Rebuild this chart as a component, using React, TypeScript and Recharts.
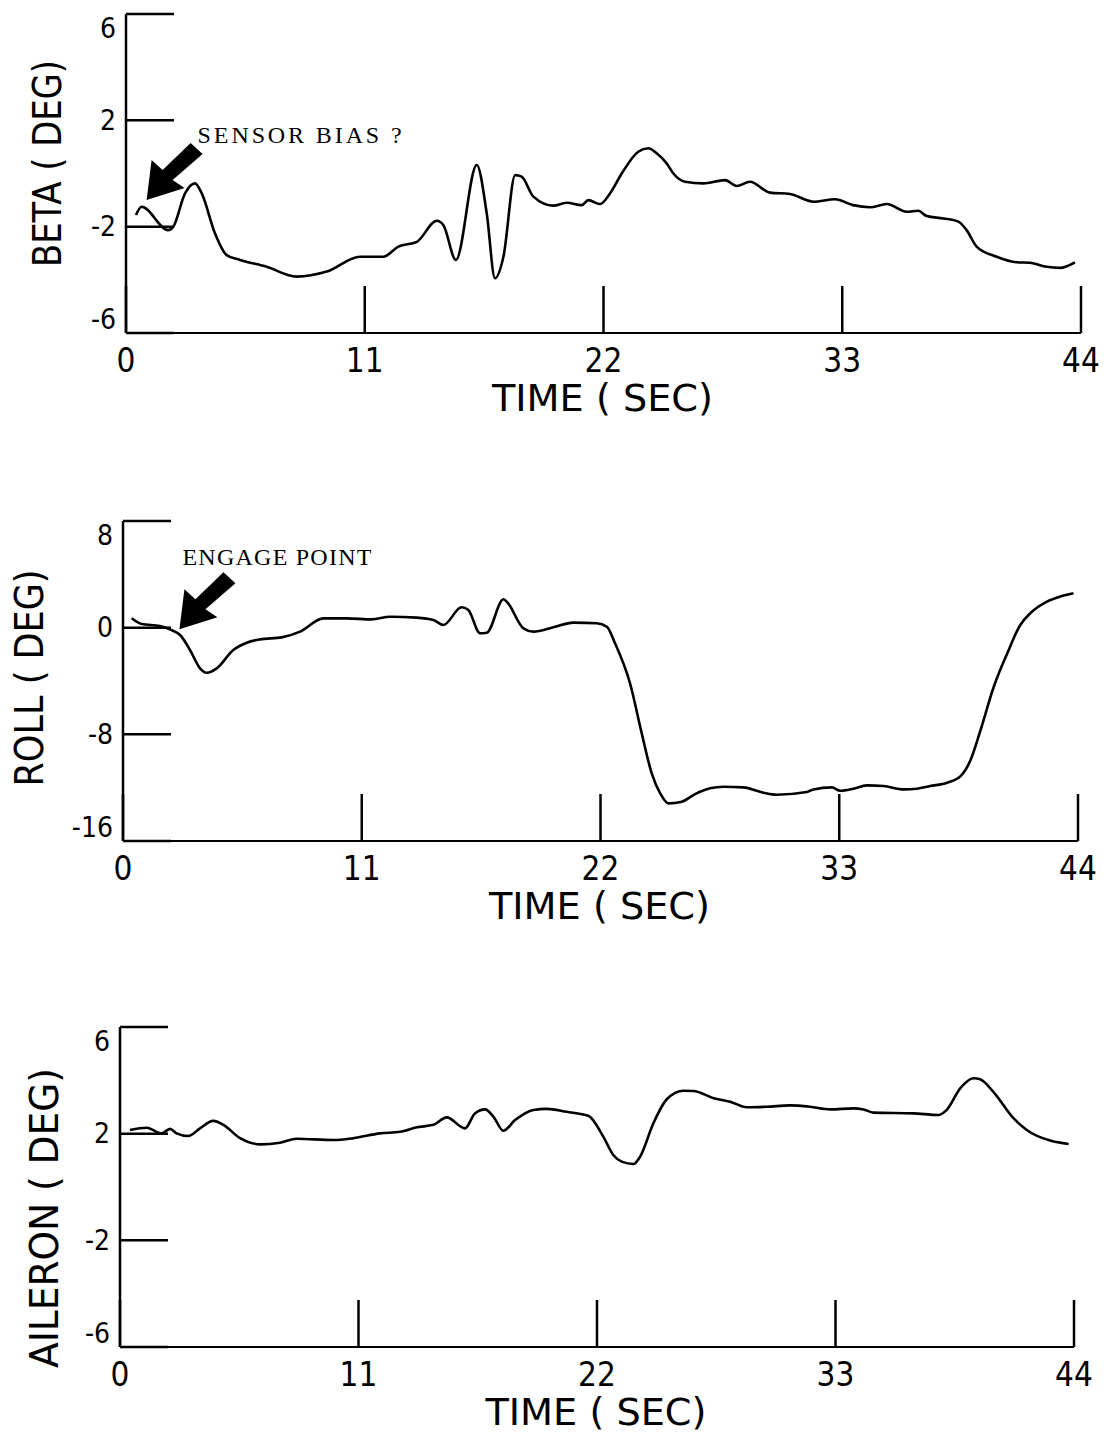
import { LineChart, Line, XAxis, YAxis, ReferenceDot } from "recharts"

// beta (sideslip) trace
const betaTime = [0.46, 0.72, 1.95, 2.18, 2.72, 3.18, 3.49, 4.1, 4.64, 5.25, 6.48, 7.86, 9.25, 10.78, 11.86, 12.55, 13.4, 14.32, 14.62, 15.2, 16.16, 16.62, 17.0, 17.39, 17.93, 18.23, 18.77, 19.69, 20.31, 21.0, 21.3, 21.84, 22.3, 22.84, 23.6, 24.07, 24.45, 24.91, 25.22, 25.76, 26.6, 27.6, 28.14, 28.75, 29.67, 30.6, 31.67, 32.67, 33.5, 34.28, 35.05, 35.97, 36.5, 36.89, 37.65, 38.35, 38.73, 39.19, 40.11, 41.04, 41.65, 42.42, 43.03, 43.72]
const betaDeg = [-1.56, -1.25, -2.13, -2.0, -0.75, -0.37, -0.75, -2.25, -3.07, -3.25, -3.51, -3.88, -3.69, -3.13, -3.13, -2.75, -2.57, -1.78, -1.94, -3.25, 0.32, -1.5, -3.94, -3.13, -0.06, -0.12, -0.87, -1.21, -1.1, -1.19, -1.0, -1.15, -0.75, 0.0, 0.82, 0.95, 0.76, 0.38, 0.0, -0.31, -0.37, -0.25, -0.47, -0.31, -0.72, -0.77, -1.06, -0.97, -1.19, -1.27, -1.15, -1.44, -1.4, -1.6, -1.69, -1.81, -2.13, -2.75, -3.13, -3.34, -3.36, -3.51, -3.55, -3.34]

// roll trace
const rollTime = [0.4, 0.86, 1.7, 2.24, 2.63, 3.09, 3.55, 3.86, 4.32, 5.08, 5.7, 6.31, 7.31, 8.16, 9.23, 10.31, 11.46, 12.3, 13.53, 14.3, 14.76, 15.6, 15.91, 16.45, 16.76, 17.53, 17.68, 18.45, 18.91, 19.83, 20.75, 21.83, 22.29, 22.67, 23.36, 23.9, 24.36, 24.75, 25.13, 25.75, 26.36, 27.05, 27.66, 28.58, 29.51, 30.12, 31.51, 31.81, 32.66, 33.04, 33.65, 34.27, 35.04, 35.96, 36.58, 37.19, 37.97, 38.59, 39.05, 39.51, 40.12, 40.74, 41.34, 41.8, 42.57, 43.18, 43.79]
const rollDeg = [0.7, 0.27, 0.12, -0.18, -0.55, -1.68, -3.05, -3.38, -3.05, -1.68, -1.13, -0.88, -0.73, -0.3, 0.7, 0.7, 0.62, 0.82, 0.75, 0.57, 0.2, 1.53, 1.33, -0.42, -0.38, 2.13, 1.95, -0.05, -0.3, 0.03, 0.38, 0.33, 0.07, -1.17, -4.17, -7.93, -10.93, -12.43, -13.18, -13.05, -12.48, -12.05, -11.93, -11.98, -12.38, -12.53, -12.33, -12.13, -11.98, -12.23, -12.08, -11.83, -11.88, -12.13, -12.08, -11.88, -11.63, -11.13, -9.93, -7.68, -4.43, -1.93, 0.2, 1.08, 1.95, 2.33, 2.58]

// aileron trace
const aileronTime = [0.46, 1.23, 1.92, 2.31, 2.61, 3.15, 3.69, 4.3, 4.77, 5.54, 6.46, 7.38, 8.15, 9.84, 10.76, 11.99, 12.92, 13.69, 14.45, 15.07, 15.91, 16.37, 16.84, 17.22, 17.68, 18.22, 19.07, 19.68, 20.6, 21.6, 22.29, 22.75, 23.14, 23.68, 23.99, 24.6, 25.22, 25.99, 26.45, 27.38, 28.14, 28.91, 29.83, 30.9, 31.83, 32.75, 33.83, 34.29, 34.75, 36.6, 37.75, 38.13, 38.75, 39.36, 39.67, 40.28, 41.21, 41.82, 42.9, 43.75]
const aileronDeg = [2.14, 2.22, 2.01, 2.18, 2.01, 1.91, 2.2, 2.48, 2.33, 1.83, 1.6, 1.66, 1.81, 1.76, 1.83, 2.01, 2.07, 2.24, 2.33, 2.61, 2.2, 2.76, 2.91, 2.64, 2.11, 2.51, 2.89, 2.93, 2.82, 2.67, 1.89, 1.2, 0.95, 0.86, 1.14, 2.39, 3.29, 3.61, 3.6, 3.33, 3.2, 2.99, 3.01, 3.06, 3.01, 2.91, 2.95, 2.91, 2.79, 2.76, 2.7, 2.89, 3.7, 4.08, 4.04, 3.57, 2.58, 2.14, 1.74, 1.61]

const timeTicks = [0, 11, 22, 33, 44]
const betaTicks = [-6, -2, 2, 6]
const rollTicks = [-16, -8, 0, 8]
const aileronTicks = [-6, -2, 2, 6]

// where the callout arrows point
const sensorBiasTip = { t: 0.95, deg: -1.0 }
const engagePointTip = { t: 2.6, deg: -0.12 }

const PLOT_FONT = '"DejaVu Sans Condensed", "DejaVu Sans", sans-serif'
const NOTE_FONT = '"Liberation Serif", serif'
const Y_AXIS_W = 60
const X_AXIS_H = 30
const plotText = { fontStretch: "condensed" as const }

const toRows = (time: number[], deg: number[]) => time.map((t, i) => ({ t, deg: deg[i] }))

const YTick = (props: any) => {
    const { x, y, payload, lo, hi } = props
    const v = payload.value
    const dy = v === hi ? 14 : v === lo ? -14 : 0
    return (
        <g>
            <line x1={x} y1={y} x2={x + 48} y2={y} stroke="#000" strokeWidth={2.5} />
            <text x={x - 10} y={y + dy} textAnchor="end" dominantBaseline="central" fontFamily={PLOT_FONT} style={plotText} fontSize={28} fill="#000">
                {v}
            </text>
        </g>
    )
}

const XTick = (props: any) => {
    const { x, y, payload } = props
    return (
        <g>
            <line x1={x} y1={y} x2={x} y2={y - 47} stroke="#000" strokeWidth={2.5} />
            <text x={x} y={y + 27} textAnchor="middle" dominantBaseline="central" fontFamily={PLOT_FONT} style={plotText} fontSize={33} fill="#000">
                {payload.value}
            </text>
        </g>
    )
}

const YTitle = (props: any) => {
    const { viewBox, text, dx, dy, len } = props
    if (!viewBox) return null
    const cx = viewBox.x + viewBox.width + dx
    const cy = viewBox.y + viewBox.height / 2 + dy
    return (
        <text
            x={cx}
            y={cy}
            transform={`rotate(-90 ${cx} ${cy})`}
            textAnchor="middle"
            dominantBaseline="central"
            fontFamily={PLOT_FONT}
            style={plotText}
            fontSize={39}
            textLength={len}
            lengthAdjust="spacingAndGlyphs"
            fill="#000"
        >
            {text}
        </text>
    )
}

const XTitle = (props: any) => {
    const { viewBox } = props
    if (!viewBox) return null
    const cx = viewBox.x + viewBox.width / 2 - 1
    const cy = viewBox.y + 65
    return (
        <text x={cx} y={cy} textAnchor="middle" dominantBaseline="central" fontFamily={PLOT_FONT} style={plotText} fontSize={37} textLength={221} lengthAdjust="spacingAndGlyphs" fill="#000">
            TIME ( SEC)
        </text>
    )
}

const Callout = (props: any) => {
    const { cx, cy, text, tx, ty, len } = props
    if (cx == null || cy == null) return null
    return (
        <g>
            <polygon
                transform={`translate(${cx} ${cy})`}
                points="0,0 5,-40 16,-30 44,-57 56,-46 26,-20 38,-12"
                fill="#000"
            />
            <text x={cx + tx} y={cy + ty} fontFamily={NOTE_FONT} fontSize={24} textLength={len} lengthAdjust="spacing" fill="#000">
                {text}
            </text>
        </g>
    )
}

type PanelProps = {
    top: number
    rows: { t: number; deg: number }[]
    ticks: number[]
    plot: { top: number; right: number; bottom: number; left: number }
    title: string
    titleDx: number
    titleDy: number
    titleLen: number
    children?: React.ReactNode
}

const Panel = ({ top, rows, ticks, plot, title, titleDx, titleDy, titleLen, children }: PanelProps) => {
    const lo = ticks[0]
    const hi = ticks[ticks.length - 1]
    const margin = {
        top: plot.top,
        right: plot.right,
        bottom: plot.bottom - X_AXIS_H,
        left: plot.left - Y_AXIS_W,
    }
    return (
        <div style={{ position: "absolute", left: 0, top }}>
            <LineChart width={1106} height={420} data={rows} margin={margin}>
                <XAxis
                    dataKey="t"
                    type="number"
                    domain={[0, 44]}
                    ticks={timeTicks}
                    interval={0}
                    height={X_AXIS_H}
                    tickSize={0}
                    tickMargin={0}
                    tickLine={false}
                    axisLine={{ stroke: "#000", strokeWidth: 2 }}
                    tick={(p: any) => <XTick {...p} />}
                    label={<XTitle />}
                />
                <YAxis
                    type="number"
                    domain={[lo, hi]}
                    ticks={ticks}
                    interval={0}
                    width={Y_AXIS_W}
                    tickSize={0}
                    tickMargin={0}
                    tickLine={false}
                    axisLine={{ stroke: "#000", strokeWidth: 2.5 }}
                    tick={(p: any) => <YTick {...p} lo={lo} hi={hi} />}
                    label={<YTitle text={title} dx={titleDx} dy={titleDy} len={titleLen} />}
                />
                <Line type="monotone" dataKey="deg" stroke="#000" strokeWidth={2.6} dot={false} isAnimationActive={false} />
                {children}
            </LineChart>
        </div>
    )
}

export default function App() {
    return (
        <div style={{ position: "absolute", left: 0, top: 0, width: 1106, height: 1433, background: "#fff" }}>
            <Panel
                top={0}
                rows={toRows(betaTime, betaDeg)}
                ticks={betaTicks}
                plot={{ top: 14, right: 25, bottom: 87, left: 126 }}
                title="BETA ( DEG)"
                titleDx={-79}
                titleDy={-10}
                titleLen={207}
            >
                <ReferenceDot
                    x={sensorBiasTip.t}
                    y={sensorBiasTip.deg}
                    r={0}
                    ifOverflow="visible"
                    shape={(p: any) => <Callout {...p} text="SENSOR BIAS ?" tx={51} ty={-57} len={204} />}
                />
            </Panel>
            <Panel
                top={507}
                rows={toRows(rollTime, rollDeg)}
                ticks={rollTicks}
                plot={{ top: 14, right: 28, bottom: 86, left: 123 }}
                title="ROLL ( DEG)"
                titleDx={-94}
                titleDy={-3}
                titleLen={217}
            >
                <ReferenceDot
                    x={engagePointTip.t}
                    y={engagePointTip.deg}
                    r={0}
                    ifOverflow="visible"
                    shape={(p: any) => <Callout {...p} text="ENGAGE POINT" tx={3} ty={-64} len={189} />}
                />
            </Panel>
            <Panel
                top={1013}
                rows={toRows(aileronTime, aileronDeg)}
                ticks={aileronTicks}
                plot={{ top: 14, right: 32, bottom: 86, left: 120 }}
                title="AILERON ( DEG)"
                titleDx={-76}
                titleDy={31}
                titleLen={300}
            />
        </div>
    )
}
